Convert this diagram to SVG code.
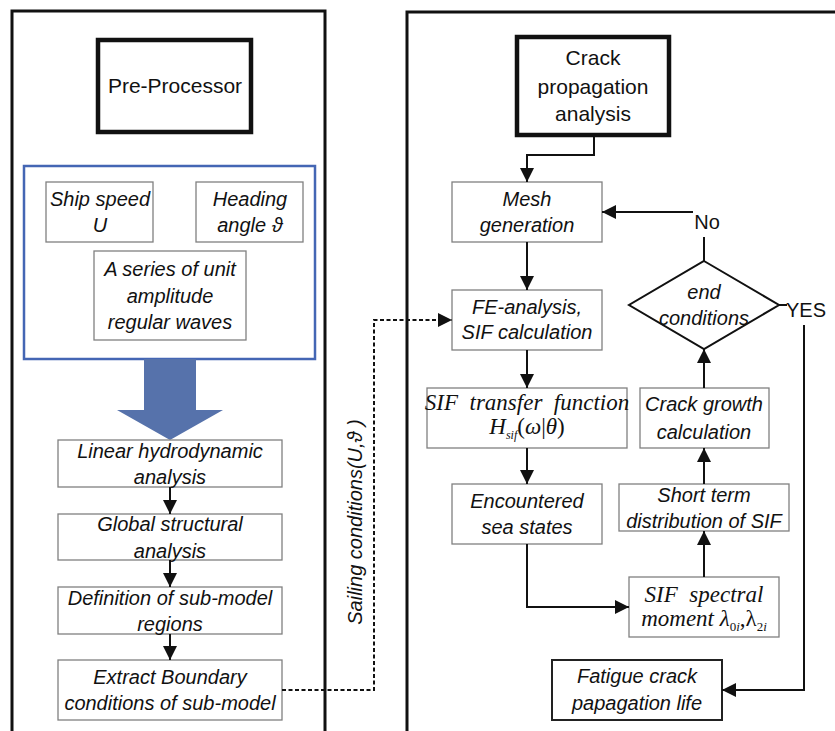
<svg xmlns="http://www.w3.org/2000/svg" width="835" height="731" viewBox="0 0 835 731">
<style>
text{font-family:"Liberation Sans",Arial,sans-serif;font-size:20px;fill:#111;text-anchor:middle}
.it{font-style:italic}
.up{font-size:21px}
.tm{font-family:"Liberation Serif","Times New Roman",serif;font-style:italic;font-size:23px}
.panel{fill:none;stroke:#111;stroke-width:3}
.thick{fill:#fff;stroke:#111;stroke-width:4.5}
.box{fill:#fff;stroke:#808080;stroke-width:1.3}
.bbox{fill:#fff;stroke:#222;stroke-width:2}
.c{fill:none;stroke:#111;stroke-width:2}
.d{fill:none;stroke:#111;stroke-width:2;stroke-dasharray:4 2.5}
</style>
<defs>
<marker id="ah" markerUnits="userSpaceOnUse" markerWidth="14" markerHeight="14" refX="14" refY="7" orient="auto">
<path d="M0,0 L14,7 L0,14 z" fill="#111"/>
</marker>
</defs>
<rect width="835" height="731" fill="#fff"/>
<g id="left-panel"><rect class="panel" x="12" y="11" width="313" height="740"/></g>
<g id="right-panel"><path class="panel" d="M407 745 V12 H840"/></g>

<g id="pre-processor"><rect class="thick" x="98" y="40" width="153" height="92"/><text class="up" x="175" y="93">Pre-Processor</text></g>
<g id="inputs"><rect x="24" y="166" width="291" height="193" fill="none" stroke="#4466b4" stroke-width="2.5"/></g>
<g id="ship-speed"><rect class="box" x="46" y="182" width="107" height="60"/><text class="it" x="100" y="206">Ship speed</text><text class="it" x="100" y="232">U</text></g>
<g id="heading"><rect class="box" x="196" y="182" width="107" height="60"/><text class="it" x="250" y="206">Heading</text><text class="it" x="250" y="232">angle ϑ</text></g>
<g id="waves"><rect class="box" x="94" y="251" width="152" height="89"/><text class="it" x="170" y="276">A series of unit</text><text class="it" x="170" y="303">amplitude</text><text class="it" x="170" y="329">regular waves</text></g>
<g id="big-arrow"><polygon points="144,359 196,359 196,410 223,410 170,440 117,410 144,410" fill="#5672ab"/></g>
<g id="linear"><rect class="box" x="58" y="440" width="224" height="47"/><text class="it" x="170" y="458">Linear hydrodynamic</text><text class="it" x="170" y="484">analysis</text></g>
<g id="global"><rect class="box" x="58" y="514" width="224" height="46"/><text class="it" x="170" y="531">Global structural</text><text class="it" x="170" y="558">analysis</text></g>
<g id="definition"><rect class="box" x="58" y="587" width="224" height="47"/><text class="it" x="170" y="605">Definition of sub-model</text><text class="it" x="170" y="631">regions</text></g>
<g id="extract"><rect class="box" x="58" y="660" width="224" height="60"/><text class="it" x="170" y="684">Extract Boundary</text><text class="it" x="170" y="710">conditions of sub-model</text></g>
<g id="sailing"><text class="it" transform="translate(362,522) rotate(-90)">Sailing conditions(U,ϑ )</text></g>

<g id="crack-prop"><rect class="thick" x="517" y="37" width="152" height="98"/><text class="up" x="593" y="65">Crack</text><text class="up" x="593" y="94">propagation</text><text class="up" x="593" y="121">analysis</text></g>
<g id="mesh"><rect class="box" x="452" y="182" width="150" height="60"/><text class="it" x="527" y="206">Mesh</text><text class="it" x="527" y="232">generation</text></g>
<g id="fe"><rect class="box" x="452" y="290" width="150" height="60"/><text class="it" x="527" y="314">FE-analysis,</text><text class="it" x="527" y="339">SIF calculation</text></g>
<g id="sif-transfer"><rect class="box" x="427" y="388" width="200" height="60"/><text class="tm" x="527" y="410" xml:space="preserve">SIF  transfer  function</text><text class="tm" x="527" y="434"><tspan>H</tspan><tspan font-size="12" dy="5">sif</tspan><tspan dy="-5" font-style="normal">(</tspan><tspan>ω</tspan><tspan font-style="normal">|</tspan><tspan>θ</tspan><tspan font-style="normal">)</tspan></text></g>
<g id="encountered"><rect class="box" x="452" y="484" width="150" height="60"/><text class="it" x="527" y="508">Encountered</text><text class="it" x="527" y="534">sea states</text></g>
<g id="sif-spectral"><rect class="box" x="629" y="577" width="150" height="60"/><text class="tm" x="704" y="602" xml:space="preserve">SIF  spectral</text><text class="tm" x="704" y="626"><tspan>moment λ</tspan><tspan font-size="13" dy="5" font-style="normal">0</tspan><tspan font-size="13">i</tspan><tspan dy="-5" font-style="normal">,λ</tspan><tspan font-size="13" dy="5" font-style="normal">2</tspan><tspan font-size="13">i</tspan></text></g>
<g id="short-term"><rect class="box" x="619" y="484" width="170" height="47"/><text class="it" x="704" y="502">Short term</text><text class="it" x="704" y="528">distribution of SIF</text></g>
<g id="crack-growth"><rect class="box" x="640" y="388" width="129" height="60"/><text class="it" x="704" y="411">Crack growth</text><text class="it" x="704" y="439">calculation</text></g>
<g id="end-cond"><polygon points="704,261 779,305 704,349 629,305" fill="#fff" stroke="#111" stroke-width="2"/><text class="it" x="704" y="299">end</text><text class="it" x="704" y="325">conditions</text></g>
<g id="fatigue"><rect class="bbox" x="552" y="660" width="170" height="60"/><text class="it" x="637" y="683">Fatigue crack</text><text class="it" x="637" y="710">papagation life</text></g>

<g id="connectors">
<path class="c" d="M170 487 V514" marker-end="url(#ah)"/>
<path class="c" d="M170 560 V587" marker-end="url(#ah)"/>
<path class="c" d="M170 634 V660" marker-end="url(#ah)"/>
<path class="d" d="M282 690 H374 V320 H452" marker-end="url(#ah)"/>
<path class="c" d="M594 135 V155 H527 V182" marker-end="url(#ah)"/>
<path class="c" d="M527 242 V290" marker-end="url(#ah)"/>
<path class="c" d="M527 350 V388" marker-end="url(#ah)"/>
<path class="c" d="M527 448 V484" marker-end="url(#ah)"/>
<path class="c" d="M527 544 V607 H629" marker-end="url(#ah)"/>
<path class="c" d="M704 577 V531" marker-end="url(#ah)"/>
<path class="c" d="M704 484 V448" marker-end="url(#ah)"/>
<path class="c" d="M704 388 V349" marker-end="url(#ah)"/>
<path class="c" d="M704 261 V237"/>
<path class="c" d="M693 212 H602" marker-end="url(#ah)"/>
<path class="c" d="M779 305 H787"/>
<path class="c" d="M804 325 V690 H722" marker-end="url(#ah)"/>
<text x="707" y="229">No</text>
<text x="806" y="317">YES</text>
</g>
</svg>
